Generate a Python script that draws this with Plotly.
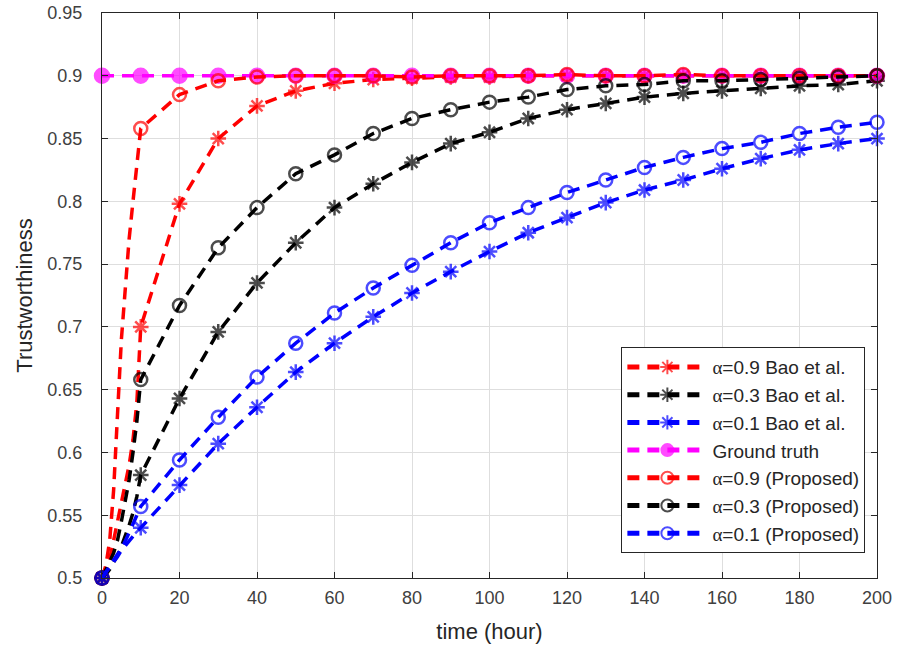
import plotly.graph_objects as go

# Sample times (hours): dense samples during the first 10 h, then every 10 h
t_early = [0, 1, 2, 3, 4, 5, 6, 7, 8, 9]
t_main = [10, 20, 30, 40, 50, 60, 70, 80, 90, 100, 110, 120, 130, 140, 150, 160, 170, 180, 190, 200]

# Bao et al. trust model
bao_09_early = [0.5, 0.505, 0.515, 0.53, 0.545, 0.56, 0.575, 0.59, 0.61, 0.64]
bao_09 = [0.700, 0.798, 0.850, 0.876, 0.888, 0.894, 0.897, 0.898, 0.899, 0.899,
          0.900, 0.900, 0.900, 0.900, 0.900, 0.900, 0.900, 0.900, 0.900, 0.900]
bao_03_early = [0.5, 0.503, 0.507, 0.512, 0.518, 0.525, 0.533, 0.542, 0.552, 0.565]
bao_03 = [0.582, 0.643, 0.696, 0.735, 0.767, 0.795, 0.814, 0.831, 0.846, 0.855,
          0.866, 0.873, 0.878, 0.883, 0.886, 0.888, 0.890, 0.892, 0.893, 0.896]
bao_01_early = [0.5, 0.504, 0.508, 0.512, 0.517, 0.522, 0.526, 0.530, 0.534, 0.537]
bao_01 = [0.540, 0.574, 0.607, 0.636, 0.664, 0.687, 0.708, 0.727, 0.744, 0.760,
          0.775, 0.787, 0.799, 0.809, 0.817, 0.826, 0.834, 0.841, 0.846, 0.850]

# Ground truth
truth_t = [0, 10, 20, 30, 40, 50, 60, 70, 80, 90, 100, 110, 120, 130, 140, 150, 160, 170, 180, 190, 200]
truth = [0.9] * len(truth_t)

# Proposed model
prop_09_early = [0.5, 0.51, 0.53, 0.57, 0.63, 0.69, 0.73, 0.77, 0.80, 0.83]
prop_09 = [0.858, 0.885, 0.896, 0.899, 0.900, 0.900, 0.900, 0.899, 0.900, 0.900,
           0.900, 0.901, 0.900, 0.900, 0.901, 0.900, 0.900, 0.900, 0.900, 0.900]
prop_03_early = [0.5, 0.506, 0.513, 0.52, 0.53, 0.545, 0.56, 0.578, 0.60, 0.625]
prop_03 = [0.658, 0.717, 0.763, 0.795, 0.822, 0.837, 0.854, 0.866, 0.873, 0.879,
           0.883, 0.889, 0.892, 0.893, 0.896, 0.896, 0.897, 0.898, 0.899, 0.900]
prop_01_early = [0.5, 0.505, 0.510, 0.515, 0.519, 0.523, 0.529, 0.536, 0.543, 0.550]
prop_01 = [0.557, 0.594, 0.628, 0.660, 0.687, 0.711, 0.731, 0.749, 0.767, 0.783,
           0.795, 0.807, 0.817, 0.827, 0.835, 0.842, 0.847, 0.854, 0.859, 0.863]

x_ticks = [0, 20, 40, 60, 80, 100, 120, 140, 160, 180, 200]
y_ticks = [0.5, 0.55, 0.6, 0.65, 0.7, 0.75, 0.8, 0.85, 0.9, 0.95]

RED = "#ff0000"
BLACK = "#000000"
BLUE = "#0000ff"
MAGENTA = "#ff00ff"
ALPHA = '<span style="font-family:Liberation Serif">α</span>'
DASH = "12px,8px"

fig = go.Figure()


def add_series(name, t, v, color, symbol, size=13):
    sizes = [size if tt % 10 == 0 else 0 for tt in t]
    fig.add_trace(go.Scatter(
        x=t, y=v, name=name, mode="lines+markers",
        line=dict(color=color, width=3.5, dash=DASH),
        marker=dict(symbol=symbol, size=sizes, color=color,
                    line=dict(color=color, width=2.5)),
        cliponaxis=False,
    ))


add_series(ALPHA + "=0.9 Bao et al.", t_early + t_main, bao_09_early + bao_09, RED, "asterisk-open")
add_series(ALPHA + "=0.3 Bao et al.", t_early + t_main, bao_03_early + bao_03, BLACK, "asterisk-open")
add_series(ALPHA + "=0.1 Bao et al.", t_early + t_main, bao_01_early + bao_01, BLUE, "asterisk-open")
add_series("Ground truth", truth_t, truth, MAGENTA, "circle", size=14)
add_series(ALPHA + "=0.9 (Proposed)", t_early + t_main, prop_09_early + prop_09, RED, "circle-open")
add_series(ALPHA + "=0.3 (Proposed)", t_early + t_main, prop_03_early + prop_03, BLACK, "circle-open")
add_series(ALPHA + "=0.1 (Proposed)", t_early + t_main, prop_01_early + prop_01, BLUE, "circle-open")

axis_common = dict(
    showgrid=True, gridcolor="#dedede", gridwidth=1,
    showline=True, linecolor="#262626", linewidth=1, mirror="ticks",
    ticks="inside", ticklen=6, tickcolor="#262626",
    tickfont=dict(family="Liberation Sans", size=18, color="#404040"),
    zeroline=False, automargin=False,
)

fig.update_xaxes(range=[0, 200], tickvals=x_ticks, ticktext=[str(v) for v in x_ticks],
                 ticklabelstandoff=3,
                 title=dict(text="time (hour)", font=dict(family="Liberation Sans", size=22, color="#262626"),
                            standoff=17),
                 **axis_common)
fig.update_yaxes(range=[0.5, 0.95], tickvals=y_ticks, ticktext=[f"{v:g}" for v in y_ticks],
                 ticklabelstandoff=15,
                 title=dict(text="Trustworthiness", font=dict(family="Liberation Sans", size=22, color="#262626"),
                            standoff=8),
                 **axis_common)

fig.update_layout(
    width=897, height=653,
    margin=dict(l=102, r=20, t=13, b=75),
    paper_bgcolor="white", plot_bgcolor="white",
    font=dict(family="Liberation Sans", color="#262626"),
    legend=dict(
        x=0.985, y=0.044, xanchor="right", yanchor="bottom",
        bgcolor="white", bordercolor="#262626", borderwidth=1,
        font=dict(family="Liberation Sans", size=19, color="#262626"),
        itemsizing="constant", itemwidth=80, tracegroupgap=0,
    ),
    showlegend=True,
)

fig.write_html("out.html")
